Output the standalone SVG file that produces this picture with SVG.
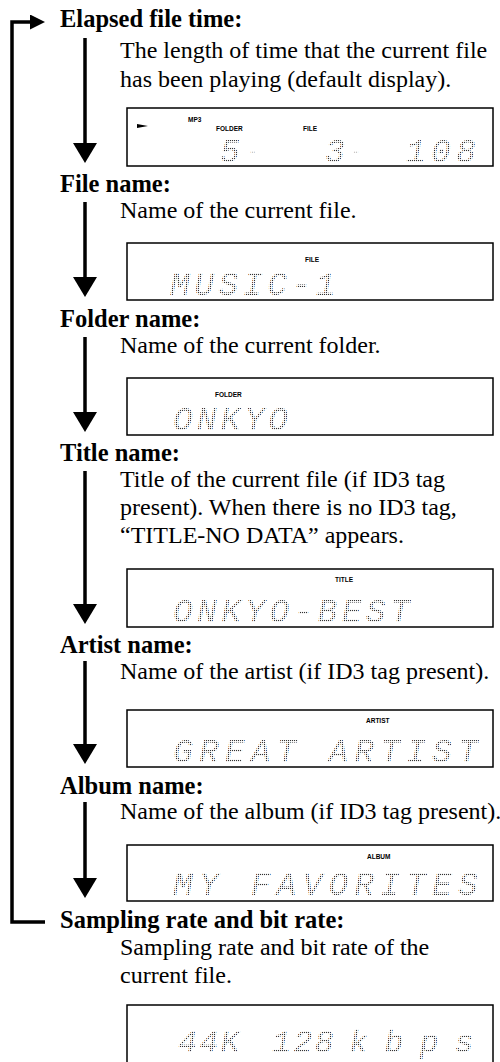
<svg xmlns="http://www.w3.org/2000/svg" width="500" height="1062" viewBox="0 0 500 1062">
<style>
.h{font-family:"Liberation Serif","Times New Roman",serif;font-weight:bold;font-size:24.5px;fill:#000}
.b{font-family:"Liberation Serif","Times New Roman",serif;font-size:24px;fill:#000}
.box{fill:#fff;stroke:#000;stroke-width:1.5}
.lbl{font-family:"Liberation Sans",Arial,sans-serif;font-weight:bold;font-size:6.5px;fill:#000}
.lcd{font-family:"Liberation Mono","Courier New",monospace;font-style:italic;font-size:33px;fill:url(#dots)}
.conn{stroke:#000;stroke-width:3.5;fill:none}
</style>
<defs>
<pattern id="dots" width="2" height="2" patternUnits="userSpaceOnUse"><rect width="1.1" height="1.1" fill="#333"/></pattern>
<marker id="down" markerUnits="userSpaceOnUse" markerWidth="20" markerHeight="24" refX="10" refY="12" orient="auto"><path d="M0,0 L20,12 L0,24 z" fill="#000"/></marker>
<marker id="right" markerUnits="userSpaceOnUse" markerWidth="15" markerHeight="15" refX="2" refY="7.5" orient="auto"><path d="M0,0 L15,7.5 L0,15 z" fill="#000"/></marker>
</defs>
<g id="connectors">
<path class="conn" d="M45,922 H12 V22 H32" marker-end="url(#right)"/>
<line class="conn" x1="85" y1="38" x2="85" y2="153" marker-end="url(#down)"/>
<line class="conn" x1="85" y1="202" x2="85" y2="287" marker-end="url(#down)"/>
<line class="conn" x1="85" y1="337" x2="85" y2="422" marker-end="url(#down)"/>
<line class="conn" x1="85" y1="471" x2="85" y2="614" marker-end="url(#down)"/>
<line class="conn" x1="85" y1="661" x2="85" y2="754" marker-end="url(#down)"/>
<line class="conn" x1="85" y1="802" x2="85" y2="888" marker-end="url(#down)"/>
</g>
<g id="elapsed">
<text class="h" x="60" y="27">Elapsed file time:</text>
<text class="b" x="120" y="58">The length of time that the current file</text>
<text class="b" x="120" y="87">has been playing (default display).</text>
<rect class="box" x="127" y="108" width="366" height="58"/>
<polygon points="137,124 148,126 137,128" fill="#000"/>
<text class="lbl" x="188" y="122">MP3</text>
<text class="lbl" x="216" y="131">FOLDER</text>
<text class="lbl" x="303" y="131">FILE</text>
<text class="lcd" y="162"><tspan x="220">5</tspan><tspan x="325">3</tspan><tspan x="406">1</tspan><tspan x="431">0</tspan><tspan x="456">8</tspan></text>
<text class="lcd" style="font-size:16px" y="156"><tspan x="248">-</tspan><tspan x="351">-</tspan></text>
</g>
<g id="filename">
<text class="h" x="60" y="192">File name:</text>
<text class="b" x="120" y="218">Name of the current file.</text>
<rect class="box" x="127" y="243" width="366" height="57"/>
<text class="lbl" x="305" y="262">FILE</text>
<text class="lcd" x="170" y="295" letter-spacing="4.5">MUSIC-1</text>
</g>
<g id="foldername">
<text class="h" x="60" y="327">Folder name:</text>
<text class="b" x="120" y="353">Name of the current folder.</text>
<rect class="box" x="127" y="378" width="366" height="57"/>
<text class="lbl" x="215" y="397">FOLDER</text>
<text class="lcd" x="173" y="430" letter-spacing="4">ONKYO</text>
</g>
<g id="titlename">
<text class="h" x="60" y="461">Title name:</text>
<text class="b" x="120" y="487">Title of the current file (if ID3 tag</text>
<text class="b" x="120" y="515">present). When there is no ID3 tag,</text>
<text class="b" x="120" y="543">“TITLE-NO DATA” appears.</text>
<rect class="box" x="127" y="569" width="366" height="58"/>
<text class="lbl" x="335" y="582">TITLE</text>
<text class="lcd" x="173" y="622" letter-spacing="4.3">ONKYO-BEST</text>
</g>
<g id="artistname">
<text class="h" x="60" y="653">Artist name:</text>
<text class="b" x="120" y="679">Name of the artist (if ID3 tag present).</text>
<rect class="box" x="127" y="710" width="366" height="57"/>
<text class="lbl" x="366" y="723">ARTIST</text>
<text class="lcd" x="173" y="762" letter-spacing="6.1">GREAT ARTIST</text>
</g>
<g id="albumname">
<text class="h" x="60" y="794">Album name:</text>
<text class="b" x="120" y="819">Name of the album (if ID3 tag present).</text>
<rect class="box" x="127" y="845" width="366" height="56"/>
<text class="lbl" x="367" y="859">ALBUM</text>
<text class="lcd" x="173" y="895" letter-spacing="6.1">MY FAVORITES</text>
</g>
<g id="sampling">
<text class="h" x="60" y="928">Sampling rate and bit rate:</text>
<text class="b" x="120" y="955">Sampling rate and bit rate of the</text>
<text class="b" x="120" y="983">current file.</text>
<rect class="box" x="127" y="1005" width="366" height="70"/>
<text class="lcd" style="font-size:32px" y="1052"><tspan x="178" letter-spacing="2">44K</tspan><tspan x="272" letter-spacing="2">128</tspan><tspan x="349" letter-spacing="16">kbps</tspan></text>
</g>
</svg>
